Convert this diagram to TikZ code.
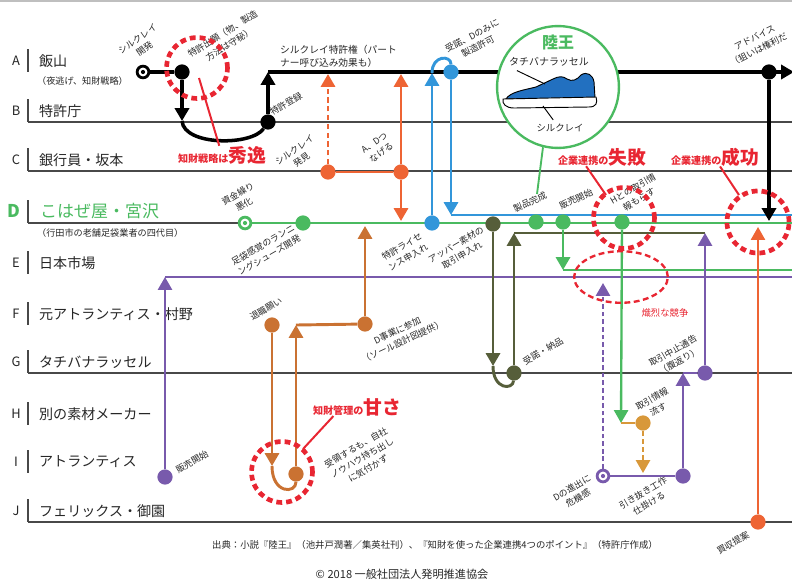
\documentclass[tikz,border=0pt]{standalone}
\usepackage{fontspec}
\setmainfont{Noto Sans CJK JP}
\usetikzlibrary{arrows.meta,shapes.geometric}

\definecolor{lanegray}{RGB}{72,72,72}
\definecolor{vermil}{RGB}{238,100,52}
\definecolor{sky}{RGB}{50,150,218}
\definecolor{leaf}{RGB}{74,186,96}
\definecolor{moss}{RGB}{86,94,58}
\definecolor{grape}{RGB}{120,90,172}
\definecolor{rust}{RGB}{202,114,50}
\definecolor{ochre}{RGB}{216,152,58}
\definecolor{alert}{RGB}{232,38,50}
\definecolor{shoe}{RGB}{34,112,192}

\newcommand\notesize{\fontsize{7.6}{10.4}\selectfont}
\newcommand\namesize{\fontsize{12}{14}\selectfont}
\newcommand\loud[1]{{\fontsize{16}{18}\selectfont#1}}

\begin{document}
\begin{tikzpicture}[x=0.03cm,y=-0.03cm,
  lane/.style={draw=lanegray,line width=1.1pt},
  flow/.style={line width=2.5pt},
  arrowed/.style={-{Triangle[width=12pt,length=11pt]}},
  dot/.style={circle,fill=#1,inner sep=0pt,minimum size=13pt},
  startpt/.style={circle,draw=#1,fill=white,line width=2.4pt,inner sep=0pt,minimum size=10pt,
    path picture={\fill[#1] (path picture bounding box.center) circle (1.8pt);}},
  note/.style={font=\notesize,text=black!85,align=center,rotate=#1,inner sep=0pt},
  note/.default=30,
  ring/.style={circle,draw=alert,line width=4pt,dash pattern=on 5pt off 3.4pt,minimum size=#1},
  hint/.style={draw=alert,line width=1.7pt},
  callout/.style={text=alert,font=\bfseries\fontsize{8.6}{10}\selectfont,inner sep=0pt}]

\useasboundingbox (0,0) rectangle (792,578);
\draw[black!25,line width=1pt] (0,1) -- (792,1);

% lanes
\foreach \y/\k/\n in {72/A/飯山,122/B/特許庁,171/C/銀行員・坂本,274/E/日本市場,
    325/F/元アトランティス・村野,373/G/タチバナラッセル,425/H/別の素材メーカー,
    473/I/アトランティス,522/J/フェリックス・御園}{
  \draw[lane] (28,\y-23) -- (28,\y);
  \node[font=\fontsize{11}{12}\selectfont,text=black!85] (key\k) at (16,\y-11) {\k};
  \node[anchor=west,font=\namesize,text=black!85] (name\k) at (35,\y-11) {\n};
}
\draw[lane] (28,200) -- (28,223);
\node[font=\bfseries\fontsize{15}{16}\selectfont,text=leaf] (keyD) at (14,211) {D};
\node[anchor=west,font=\fontsize{14.5}{16}\selectfont,text=leaf] (nameD) at (36,211) {こはぜ屋・宮沢};
\node[anchor=west,font=\fontsize{7.8}{9}\selectfont,text=black!85] (subA) at (33,81) {（夜逃げ、知財戦略）};
\node[anchor=west,font=\fontsize{7.8}{9}\selectfont,text=black!85] (subD) at (33,233) {（行田市の老舗足袋業者の四代目）};
\foreach \y in {122,171,223,373,522} \draw[lane] (28,\y) -- (792,\y);

% long runs
\coordinate (grantA) at (268,72);
\coordinate (aEnd) at (794,72);
\draw[flow,line width=3pt,arrowed] (grantA) -- (aEnd);
\coordinate (saleE) at (165,277);
\coordinate (eEnd) at (792,277);
\draw[flow,grape,line width=2pt] (saleE) -- (eEnd);
\coordinate (consentD) at (451,215);
\coordinate (skyEnd) at (792,215);
\draw[flow,sky] (consentD) -- (skyEnd);
\coordinate (launchE) at (563,270);
\coordinate (leafEnd) at (792,270);
\draw[flow,leaf,line width=2pt] (launchE) -- (leafEnd);
\coordinate (supplyD) at (514,233);
\coordinate (cancelD) at (705,233);
\draw[flow,moss,line width=2pt] (supplyD) -- (cancelD);
\node[startpt=leaf] (funds) at (245,223) {};
\coordinate (dEnd) at (792,223);
\draw[flow,leaf] (funds) -- (dEnd);

% Rikuou badge
\node[circle,draw=leaf,line width=2pt,fill=white,minimum size=104pt] (rikuo) at (558,87) {};
\coordinate (stem) at (537,194);
\draw[leaf,line width=1.6pt] (rikuo.256) -- (stem);
\node[text=leaf,font=\bfseries\fontsize{13.6}{15}\selectfont] (rikuoTitle) at (558,42) {陸王};
\node[font=\fontsize{8.5}{10}\selectfont,text=black!85] (upperTag) at (549,62) {タチバナラッセル};
\node[font=\fontsize{8}{9}\selectfont,text=black!85] (soleTag) at (560,128) {シルクレイ};
\scope[line width=0.8pt]
\filldraw[fill=shoe] (506,99) .. controls (510,92) and (524,90) .. (536,87)
  -- (553,79) .. controls (559,76) and (563,76) .. (567,79)
  .. controls (572,82) and (577,80) .. (581,75) .. controls (587,71) and (593,75) .. (594,82)
  -- (595,98) -- cycle;
\filldraw[fill=white] (503,99) -- (596,97) .. controls (598,103) and (596,107) .. (589,107)
  -- (514,108) .. controls (506,108) and (502,104) .. (503,99) -- cycle;
\coordinate (upperPt) at (545,84);
\coordinate (solePt) at (543,106);
\draw (upperTag.195) -- (upperPt);
\draw (solePt) -- (soleTag.130);
\endscope

% events
\node[startpt=black] (silk) at (143,72) {};
\node[dot=black] (apply) at (182,72) {};
\node[dot=black] (grant) at (268,122) {};
\node[dot=black] (advice) at (769,72) {};
\node[dot=vermil] (found) at (328,172) {};
\node[dot=vermil] (link) at (401,172) {};
\node[dot=vermil] (buy) at (758,522) {};
\node[dot=sky] (licence) at (432,223) {};
\node[dot=sky] (consent) at (451,72) {};
\node[dot=leaf] (develop) at (303,223) {};
\node[dot=leaf] (product) at (536,222) {};
\node[dot=leaf] (launch) at (563,222) {};
\node[dot=leaf] (leak) at (622,222) {};
\node[dot=moss] (upper) at (493,224) {};
\node[dot=moss] (supply) at (514,373) {};
\node[dot=grape] (sale) at (165,477) {};
\node[startpt=grape] (threat) at (603,476) {};
\node[dot=grape] (poach) at (683,476) {};
\node[dot=grape] (cancel) at (705,373) {};
\node[dot=rust] (resign) at (272,325) {};
\node[dot=rust] (receive) at (296,474) {};
\node[dot=rust] (join) at (365,324) {};
\node[dot=ochre] (pass) at (643,423) {};

\coordinate (applyB) at (182,121);
\coordinate (foundA) at (328,74);
\coordinate (linkA) at (401,74);
\coordinate (linkD) at (401,221);
\coordinate (licenceA) at (432,73);
\coordinate (adviceD) at (769,221);
\coordinate (buyD) at (758,227);
\coordinate (upperG) at (493,366);
\coordinate (leakH) at (621,423);
\coordinate (passI) at (643,473);
\coordinate (threatE) at (603,283);
\coordinate (poachG) at (683,373);
\coordinate (resignI) at (272,466);
\coordinate (receiveF) at (296,325);
\coordinate (joinD) at (365,226);

% patent route
\draw[flow,line width=3pt] (silk) -- (apply);
\draw[flow,line width=3pt,arrowed] (apply) -- (applyB);
\draw[flow,line width=3pt] (applyB) .. controls (184,146) and (252,146) .. (grant);
\draw[flow,line width=3pt,arrowed] (grant) -- (grantA);
\draw[flow,line width=3pt,arrowed] (advice) -- (adviceD);
% banker
\draw[flow,vermil] (found) -- (link);
\draw[flow,vermil,dash pattern=on 4.5pt off 3pt,arrowed] (found) -- (foundA);
\draw[flow,vermil,arrowed] (link) -- (linkA);
\draw[flow,vermil,arrowed] (link) -- (linkD);
\draw[flow,vermil,line width=1.8pt,arrowed] (buy) -- (buyD);
% licence
\draw[flow,sky,arrowed] (licence) -- (licenceA);
\draw[flow,sky] (licenceA) .. controls (432,55) and (451,55) .. (consent);
\draw[flow,sky,arrowed] (consent) -- (consentD);
% Kohazeya
\draw[flow,leaf,arrowed] (launch) -- (launchE);
\draw[flow,leaf,line width=2pt,arrowed] (leak) -- (leakH);
\draw[flow,ochre,line width=2pt] (leakH) -- (pass);
\draw[flow,ochre,line width=2pt,dash pattern=on 4pt off 3pt,arrowed] (pass) -- (passI);
% Tachibana
\draw[flow,moss,arrowed] (upper) -- (upperG);
\draw[flow,moss] (upperG) .. controls (493,390) and (513,390) .. (supply);
\draw[flow,moss,arrowed] (supply) -- (supplyD);
% Atlantis
\draw[flow,grape,line width=2pt,arrowed] (sale) -- (saleE);
\draw[flow,grape,line width=2pt,dash pattern=on 4pt off 2.5pt,arrowed] (threat) -- (threatE);
\draw[flow,grape,line width=2.2pt] (threat) -- (poach);
\draw[flow,grape,line width=2.2pt,arrowed] (poach) -- (poachG);
\draw[flow,grape,line width=2.2pt] (poachG) -- (cancel);
\draw[flow,grape,line width=2.2pt,arrowed] (cancel) -- (cancelD);
% Murano
\draw[flow,rust,arrowed] (resign) -- (resignI);
\draw[flow,rust] (resignI) .. controls (272,494) and (296,494) .. (receive);
\draw[flow,rust,arrowed] (receive) -- (receiveF);
\draw[flow,rust] (receiveF) -- (join);
\draw[flow,rust,arrowed] (join) -- (joinD);

% event notes
\node[note=35] (silkLbl) at (141,44) {シルクレイ\\開発};
\node[note=32] (applyLbl) at (226,39) {特許出願（物、製造\\方法は守秘）};
\node[note] (grantLbl) at (286,104) {特許登録};
\node[anchor=west,align=left,font=\fontsize{8.3}{11}\selectfont,text=black!85] (patentLbl) at (276,56) {シルクレイ特許権（パート\\ナー呼び込み効果も）};
\node[note=35] (foundLbl) at (298,155) {シルクレイ\\発見};
\node[note=35] (linkLbl) at (378,148) {A、Dつ\\なげる};
\node[note=28] (consentLbl) at (475,41) {受諾、Dのみに\\製造許可};
\node[note=27,align=left] (adviceLbl) at (756,44) {\hspace{1.2em}アドバイス\\（狙いは権利だ};
\node[note] (fundsLbl) at (241,199) {資金繰り\\悪化};
\node[note] (developLbl) at (266,250) {足袋感覚のランニ\\ングシューズ開発};
\node[note] (licenceLbl) at (405,252) {特許ライセ\\ンス申入れ};
\node[note] (upperLbl) at (459,250) {アッパー素材の\\取引申入れ};
\node[note=25] (productLbl) at (530,202) {製品完成};
\node[note=25] (launchLbl) at (576,199) {販売開始};
\node[note] (leakLbl) at (636,194) {Hとの取引情\\報もらす};
\node[note=25] (joinLbl) at (400,336) {D事業に参加\\（ソール設計図提供）};
\node[note] (resignLbl) at (266,309) {退職願い};
\node[note] (supplyLbl) at (543,351) {受諾・納品};
\node[note] (cancelLbl) at (676,356) {取引中止通告\\（腹返り）};
\node[note] (passLbl) at (655,404) {取引情報\\流す};
\node[note] (threatLbl) at (575,493) {Dの進出に\\危機感};
\node[note] (poachLbl) at (646,498) {引き抜き工作\\仕掛ける};
\node[note] (buyLbl) at (733,543) {買収提案};
\node[note] (saleLbl) at (192,462) {販売開始};
\node[note] (receiveLbl) at (362,458) {受領するも、自社\\ノウハウ持ち出し\\に気付かず};

% red remarks
\node[ring=52pt] (ringIP) at (197,68) {};
\node[ring=52pt] (ringFail) at (624,218) {};
\node[ring=53pt] (ringWin) at (758,222) {};
\node[ring=52pt] (ringLax) at (282,472) {};
\node[ellipse,draw=alert,line width=2pt,dash pattern=on 5pt off 3pt,minimum width=80pt,minimum height=44pt] (race) at (621,277) {};
\node[callout] (ipNote) at (222,155) {知財戦略は\loud{秀逸}};
\node[callout] (failNote) at (602,157) {企業連携の\loud{失敗}};
\node[callout] (winNote) at (715,157) {企業連携の\loud{成功}};
\node[callout] (laxNote) at (357,407) {知財管理の\loud{甘さ}};
\node[text=alert,font=\fontsize{8}{9}\selectfont] (raceNote) at (665,313) {熾烈な競争};
\coordinate (ipHint) at (199,78);
\coordinate (failHint) at (606,195);
\coordinate (winHint) at (739,195);
\coordinate (laxHint) at (303,449);
\draw[hint] (ipNote) -- (ipHint);
\draw[hint] (failNote.210) -- (failHint);
\draw[hint] (winNote.298) -- (winHint);
\draw[hint] (laxNote.201) -- (laxHint);

% source
\node[font=\fontsize{8}{9}\selectfont,text=black!85] (source) at (435,545) {出典：小説『陸王』（池井戸潤著／集英社刊）、『知財を使った企業連携4つのポイント』（特許庁作成）};
\node[font=\fontsize{9.5}{10}\selectfont,text=black!85] (copyright) at (402,574) {© 2018 一般社団法人発明推進協会};
\end{tikzpicture}
\end{document}
